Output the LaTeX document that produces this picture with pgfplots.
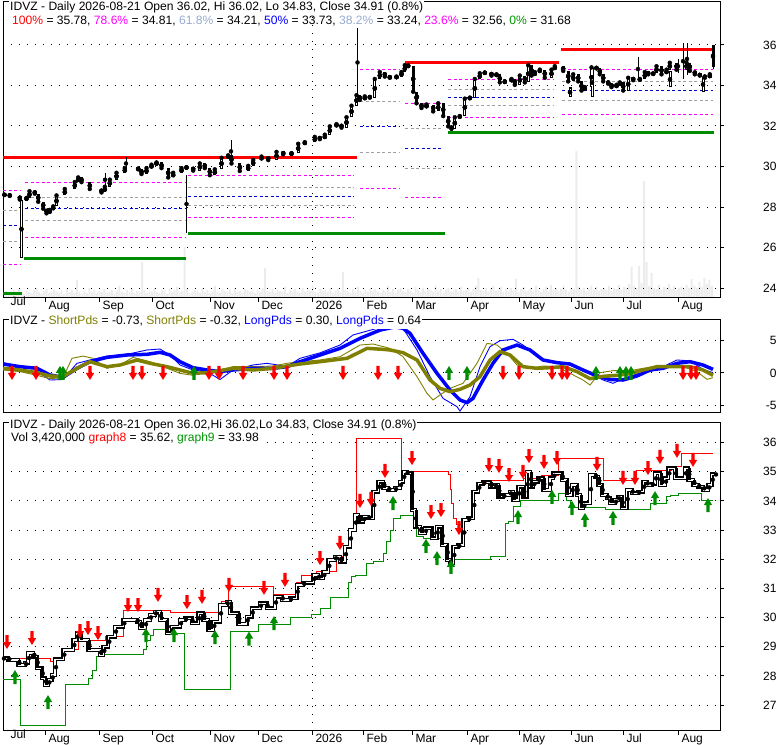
\documentclass[border=0pt]{standalone}
\usepackage{pgfplots}
\pgfplotsset{compat=1.18}
\usepackage{pgfplotstable}
\usepackage{fontspec}
\setmainfont{Liberation Sans}

\definecolor{cRed}{RGB}{255,0,0}
\definecolor{cMag}{RGB}{255,0,255}
\definecolor{cGray}{RGB}{160,160,160}
\definecolor{cBlue}{RGB}{0,0,205}
\definecolor{cGreen}{RGB}{0,140,0}
\definecolor{cGreenT}{RGB}{0,150,0}
\definecolor{cSteel}{RGB}{150,170,210}
\definecolor{cOlive}{RGB}{128,128,0}
\definecolor{cLBlue}{RGB}{0,0,255}
\definecolor{cVol}{RGB}{236,236,236}

\pgfdeclareplotmark{dnarrow}{%
  \pgfpathmoveto{\pgfpoint{-1.7pt}{7pt}}%
  \pgfpathlineto{\pgfpoint{1.7pt}{7pt}}%
  \pgfpathlineto{\pgfpoint{1.7pt}{0pt}}%
  \pgfpathlineto{\pgfpoint{4.2pt}{0pt}}%
  \pgfpathlineto{\pgfpoint{0pt}{-7pt}}%
  \pgfpathlineto{\pgfpoint{-4.2pt}{0pt}}%
  \pgfpathlineto{\pgfpoint{-1.7pt}{0pt}}%
  \pgfpathclose\pgfusepathqfill}
\pgfdeclareplotmark{uparrow}{%
  \pgfpathmoveto{\pgfpoint{-1.7pt}{-7pt}}%
  \pgfpathlineto{\pgfpoint{1.7pt}{-7pt}}%
  \pgfpathlineto{\pgfpoint{1.7pt}{0pt}}%
  \pgfpathlineto{\pgfpoint{4.2pt}{0pt}}%
  \pgfpathlineto{\pgfpoint{0pt}{7pt}}%
  \pgfpathlineto{\pgfpoint{-4.2pt}{0pt}}%
  \pgfpathlineto{\pgfpoint{-1.7pt}{0pt}}%
  \pgfpathclose\pgfusepathqfill}

% closes as steps: x = start of step, o = previous close, v = close
\pgfplotstableread{
x o v
3 28.60 28.60
8.3 28.60 28.55
18.3 28.55 28.37
25 28.37 28.45
28 28.45 28.78
33.3 28.78 28.66
36.7 28.66 28.26
41.7 28.26 27.92
45 27.92 27.69
48.3 27.69 27.86
51.7 27.86 28.03
55 28.03 28.57
63.3 28.57 28.89
73.3 28.89 29.23
76.7 29.23 29.46
80 29.46 29.23
88.3 29.23 28.89
100 28.89 28.72
103.3 28.72 29.00
108.3 29.00 29.35
115 29.35 29.69
123.3 29.69 29.92
136.7 29.92 29.86
140 29.86 29.63
145 29.63 29.92
150 29.92 30.09
155 30.09 30.20
160 30.20 29.92
166.7 29.92 29.46
171.7 29.46 29.69
180 29.69 29.92
185 29.92 29.97
191.7 29.97 29.80
198.3 29.80 30.15
203.3 30.15 29.92
208.3 29.92 29.57
213.3 29.57 29.86
220 29.86 30.43
226.7 30.43 30.55
230 30.55 30.15
238.3 30.15 29.78
246.7 29.78 30.03
251.7 30.03 30.32
260 30.32 30.49
266.7 30.49 30.32
275 30.32 30.72
281.7 30.72 30.60
290 30.60 30.66
296.7 30.66 31.12
303.3 31.12 31.20
313.3 31.20 31.46
318.3 31.46 31.35
323.3 31.35 31.57
328.3 31.57 31.98
335 31.98 32.09
340 32.09 31.92
345 31.92 32.43
350 32.43 33.00
355 33.00 33.52
358.3 33.52 33.29
363.3 33.29 33.46
368.3 33.46 33.40
373.3 33.40 34.32
378.3 34.32 34.66
383.3 34.66 34.44
388.3 34.44 34.38
395 34.38 34.44
400 34.44 34.66
403.3 34.66 35.00
406.7 35.00 34.95
411.7 34.95 33.69
415 33.69 33.12
420 33.12 32.89
425 32.89 33.06
431.7 33.06 32.72
436.7 32.72 33.12
441.7 33.12 32.49
446.7 32.49 31.98
450 31.98 31.86
453.3 31.86 32.43
458.3 32.43 32.49
463.3 32.49 33.35
468.3 33.35 33.40
473.3 33.40 34.32
478.3 34.32 34.60
483.3 34.60 34.64
490 34.64 34.49
495 34.49 34.55
498.3 34.55 34.15
503.3 34.15 34.20
510 34.20 34.32
513.3 34.32 34.03
518.3 34.03 34.49
523.3 34.49 34.15
526.7 34.15 35.00
530 35.00 34.49
533.3 34.49 34.66
538.3 34.66 34.78
543.3 34.78 34.38
550 34.38 34.78
553.3 34.78 34.95
561.7 34.95 34.72
566.7 34.72 34.20
571.7 34.20 34.55
576.7 34.55 34.20
580 34.20 33.75
583.3 33.75 33.92
590 33.92 34.89
595 34.89 34.84
598.3 34.84 34.55
601.7 34.55 34.20
606.7 34.20 34.09
610 34.09 33.92
615 33.92 34.03
618.3 34.03 34.15
621.7 34.15 33.75
626.7 33.75 34.38
631.7 34.38 34.26
638.3 34.26 34.32
643.3 34.32 34.66
646.7 34.66 34.55
651.7 34.55 34.60
655 34.60 34.95
660 34.95 34.55
665 34.55 34.78
668.3 34.78 35.12
675 35.12 34.78
685 34.78 35.12
688.3 35.12 34.72
693.3 34.72 34.55
698.3 34.55 34.49
703.3 34.49 34.38
708.3 34.38 34.55
711.7 34.55 34.91
715 34.91 34.91
}\segs

\pgfplotstableread{
x v
3 28.58
50 28.49
55 28.58
63.3 28.89
78.3 29.23
105 29.35
123.3 30.26
170 30.17
221.7 30.55
228.3 31.08
273.3 30.78
296.7 31.20
301.7 31.46
316.7 31.57
336.7 32.09
345 32.43
350 33.00
355 33.52
356.7 36.15
401.7 35.00
448.3 34.90
450 34.40
451.7 33.90
453.3 33.41
456.7 33.20
463.3 33.35
473.3 34.32
478.3 34.60
490 34.70
523.3 34.78
541.7 34.89
558.3 35.46
603.3 34.70
636.7 35.04
671.7 35.18
681.7 35.64
713 35.64
}\geight

\pgfplotstableread{
x v
3 27.89
20.7 26.31
65 27.71
88.3 27.90
92 28.20
96.7 28.66
103.3 28.72
143.3 28.90
146.7 29.20
150 29.40
153.3 29.60
166.7 29.44
184 27.54
230 29.54
258.3 29.75
290 30.01
311.7 30.10
320 30.30
330 30.70
348.3 31.20
351 31.40
355 31.46
366.7 31.86
373.3 31.92
383.3 32.20
386.7 32.60
390 33.00
393.3 33.41
400 33.49
416.7 32.78
423.3 32.72
440 32.55
445 32.00
490 32.11
505 33.23
508.3 33.29
513.3 33.80
520 34.03
558.3 34.26
566.7 34.00
570 33.78
605 33.70
650 33.92
666.7 34.17
670 34.20
678.3 34.26
701.7 34.03
713 34.03
}\gnine

\pgfplotsset{
  panel/.style={
    scale only axis, width=717pt, xmin=3, xmax=720,
    axis line style={line width=1pt, black},
    every tick/.style={black, line width=1pt},
    tick align=outside, major tick length=4pt,
    ytick pos=right, yticklabel pos=right, xtick pos=bottom,
    ymajorgrids,
    major grid style={black, line width=1pt, dash pattern=on 1pt off 7pt},
    tick label style={font=\fontsize{12}{14}\selectfont},
    /pgf/number format/assume math mode=true,
    yticklabel style={anchor=east, xshift=56pt},
  },
  ovl/.style={scale only axis, width=717pt, xmin=3, xmax=720, hide axis},
  months/.style={
    xtick={45,99,152,210,258,312,363,412,467,519,571,623,678},
    xticklabels={Aug,Sep,Oct,Nov,Dec,2026,Feb,Mar,Apr,May,Jun,Jul,Aug},
    extra x ticks={7}, extra x tick labels={Jul},
    extra x tick style={major tick length=0pt},
    xticklabel style={anchor=base west, xshift=0pt, yshift=-8pt},
  },
  fibD/.style={line width=1pt, dash pattern=on 3pt off 2.5pt},
  fibT/.style={line width=3pt},
  body/.style={only marks, mark=none, error bars/.cd, y dir=both, y explicit, error mark=none},
}

\begin{document}
\begin{tikzpicture}[x=1pt,y=1pt]
\coordinate (Ptop) at (3,447);
\coordinate (Pmid) at (3,332);
\coordinate (Pbot) at (3,14.3);

% ================= TOP PANEL =================
% volume
\begin{axis}[ovl, at={(Ptop)}, anchor=south west, height=296pt, ymin=0, ymax=296]
\addplot[ybar, bar width=2pt, fill=cVol, draw=none]
 table[row sep=\\, x expr=4+2.51*\coordindex, y=v] {
v\\5\\7\\4\\6\\8\\5\\9\\6\\4\\7\\
6\\5\\8\\10\\6\\4\\7\\9\\5\\6\\
8\\6\\5\\7\\4\\9\\6\\8\\5\\18\\
6\\4\\7\\5\\10\\6\\8\\5\\7\\6\\
9\\5\\6\\8\\4\\7\\12\\6\\5\\8\\
6\\9\\5\\7\\6\\36\\8\\5\\7\\6\\
10\\6\\5\\8\\7\\4\\9\\6\\8\\11\\
6\\7\\51\\9\\5\\6\\8\\7\\5\\10\\
6\\8\\5\\7\\12\\6\\5\\9\\7\\6\\
8\\5\\10\\6\\7\\5\\9\\8\\6\\7\\
5\\8\\6\\10\\30\\7\\6\\9\\5\\8\\
7\\6\\11\\5\\8\\7\\9\\6\\5\\10\\
6\\8\\7\\12\\6\\5\\9\\7\\8\\6\\
10\\5\\7\\9\\6\\26\\8\\7\\5\\9\\
6\\11\\7\\5\\8\\6\\10\\7\\9\\6\\
5\\8\\7\\12\\6\\9\\5\\8\\10\\7\\
6\\9\\7\\5\\11\\8\\6\\10\\7\\9\\
8\\6\\12\\7\\9\\5\\8\\10\\6\\7\\
9\\6\\11\\7\\8\\10\\6\\9\\12\\20\\
8\\7\\10\\6\\9\\12\\7\\8\\11\\6\\
9\\7\\10\\8\\19\\6\\9\\11\\7\\8\\
10\\7\\12\\8\\6\\9\\11\\7\\13\\8\\
10\\7\\9\\12\\8\\6\\10\\9\\147\\11\\
8\\10\\7\\9\\12\\8\\11\\7\\9\\10\\
8\\12\\7\\10\\9\\13\\8\\11\\10\\14\\
31\\12\\10\\32\\15\\117\\36\\12\\25\\10\\
9\\13\\8\\11\\10\\14\\9\\12\\8\\10\\
11\\9\\13\\10\\19\\12\\10\\16\\11\\20\\
14\\18\\12\\
};
\end{axis}

\begin{axis}[panel, months, at={(Ptop)}, anchor=south west, height=296pt,
  ymin=23.51, ymax=38.12, ytick={24,26,...,36}]
\addplot[black, line width=1pt, dash pattern=on 1pt off 7pt] coordinates {(312,23.51) (312,38.12)};
% period 1
\addplot[cMag, fibD] coordinates {(3,28.83) (20,28.83)};
\addplot[cGray, fibD] coordinates {(3,27.84) (20,27.84)};
\addplot[cBlue, fibD] coordinates {(3,27.10) (20,27.10)};
\addplot[cGray, fibD] coordinates {(3,26.30) (20,26.30)};
\addplot[cMag, fibD] coordinates {(3,25.18) (20,25.18)};
\addplot[cGreen, fibT] coordinates {(3,23.75) (22,23.75)};
% period 2
\addplot[cMag, fibD] coordinates {(25,29.19) (185,29.19)};
\addplot[cGray, fibD] coordinates {(25,28.46) (185,28.46)};
\addplot[cBlue, fibD] coordinates {(25,27.94) (185,27.94)};
\addplot[cGray, fibD] coordinates {(25,27.35) (185,27.35)};
\addplot[cMag, fibD] coordinates {(25,26.50) (185,26.50)};
\addplot[cGreen, fibT] coordinates {(24,25.47) (186,25.47)};
% period 3
\addplot[cMag, fibD] coordinates {(188,29.55) (354,29.55)};
\addplot[cGray, fibD] coordinates {(188,28.97) (354,28.97)};
\addplot[cBlue, fibD] coordinates {(188,28.54) (354,28.54)};
\addplot[cGray, fibD] coordinates {(188,28.09) (354,28.09)};
\addplot[cMag, fibD] coordinates {(188,27.46) (354,27.46)};
\addplot[cGreen, fibT] coordinates {(188,26.68) (445,26.68)};
\addplot[cRed, fibT] coordinates {(3,30.43) (357,30.43)};
% period 4
\addplot[cMag, fibD] coordinates {(360,34.77) (400,34.77)};
\addplot[cGray, fibD] coordinates {(360,33.23) (400,33.23)};
\addplot[cBlue, fibD] coordinates {(360,31.97) (400,31.97)};
\addplot[cGray, fibD] coordinates {(360,30.70) (400,30.70)};
\addplot[cMag, fibD] coordinates {(360,28.92) (400,28.92)};
% period 5
\addplot[cMag, fibD] coordinates {(405,33.12) (443,33.12)};
\addplot[cGray, fibD] coordinates {(405,31.89) (443,31.89)};
\addplot[cBlue, fibD] coordinates {(405,30.90) (443,30.90)};
\addplot[cGray, fibD] coordinates {(405,29.91) (443,29.91)};
\addplot[cMag, fibD] coordinates {(405,28.48) (443,28.48)};
\addplot[cRed, fibT] coordinates {(405,35.14) (559,35.14)};
% period 6
\addplot[cMag, fibD] coordinates {(448,34.31) (553,34.31)};
\addplot[cGray, fibD] coordinates {(448,33.81) (553,33.81)};
\addplot[cBlue, fibD] coordinates {(448,33.42) (553,33.42)};
\addplot[cGray, fibD] coordinates {(448,32.99) (553,32.99)};
\addplot[cMag, fibD] coordinates {(448,32.43) (553,32.43)};
\addplot[cGreen, fibT] coordinates {(448,31.69) (714,31.69)};
% period 7
\addplot[cMag, fibD] coordinates {(562,34.81) (713,34.81)};
\addplot[cGray, fibD] coordinates {(562,34.21) (713,34.21)};
\addplot[cBlue, fibD] coordinates {(562,33.73) (713,33.73)};
\addplot[cGray, fibD] coordinates {(562,33.24) (713,33.24)};
\addplot[cMag, fibD] coordinates {(562,32.56) (713,32.56)};
\addplot[cRed, fibT] coordinates {(561,35.78) (713,35.78)};
% wicks
\addplot[body, error bar style={line width=1pt, black}] table[y expr=(\thisrow{lo}+\thisrow{hi})/2, y error expr=(\thisrow{hi}-\thisrow{lo})/2] {
x lo hi
186.5 26.70 29.60
357.5 33.43 36.84
126 29.83 30.47
105 28.99 29.70
231 30.20 31.30
638 34.20 35.42
678 34.60 35.30
683 34.30 36.10
687 34.50 36.12
713 34.83 36.02
417 33.20 33.70
};
% candle bodies: down (filled)
\addplot[body, error bar style={line width=3pt, black}] table[restrict x to domain=0:712, x expr=\thisrow{x}+1.5, y expr=(\thisrow{o}+\thisrow{v})/2, y error expr={max(\thisrow{o}-\thisrow{v},0)/2}] {\segs};
\addplot[body, error bar style={line width=3pt, black}] coordinates {(713,35.465) +- (0,0.555)};
% up (hollow)
\addplot[body, error bar style={line width=3pt, black}] table[restrict x to domain=0:712, x expr=\thisrow{x}+1.5, y expr=(\thisrow{o}+\thisrow{v})/2, y error expr={max(\thisrow{v}-\thisrow{o},0)/2}] {\segs};
\addplot[body, error bar style={line width=3pt, black}] coordinates {(21.5,26.91) +- (0,1.44) (592,34.145) +- (0,0.715) (570,33.665) +- (0,0.235) (703,34.05) +- (0,0.35) (670,34.3) +- (0,0.4)};
\addplot[body, error bar style={line width=1pt, white}] table[restrict x to domain=0:712, x expr=\thisrow{x}+1.5, y expr=(\thisrow{o}+\thisrow{v})/2, y error expr={max((\thisrow{v}-\thisrow{o})/2-0.05,0)}] {\segs};
\addplot[body, error bar style={line width=1pt, white}] coordinates {(21.5,26.91) +- (0,1.39) (592,34.145) +- (0,0.665) (570,33.665) +- (0,0.185) (703,34.05) +- (0,0.3) (670,34.3) +- (0,0.35)};
% close dash
\addplot[body, error bar style={line width=3pt, black}] table[restrict x to domain=0:712, x expr=\thisrow{x}+1.5, y=v, y error expr=0.03] {\segs};
\end{axis}

% ================= MIDDLE PANEL =================
\begin{axis}[panel, at={(Pmid)}, anchor=south west, height=93pt,
  ymin=-6.154, ymax=8.154, ytick={-5,0,5}, xtick=\empty]
\addplot[cLBlue, line width=0.9pt] coordinates {
(3,1.6) (20,1.0) (33,0.72) (50,-1.08) (63,-1.0) (77,1.49) (90,2.0) (107,2.6) (127,2.87) (147,3.54) (160,3.69) (170,2.77) (180,1.23) (193,0.46) (207,0.21) (220,-1.0) (233,0.46) (253,1.23) (267,1.49) (287,1.0) (300,2.26) (320,3.1) (340,4.3) (353,5.85) (373,6.7) (390,7.4) (403,6.87) (417,3.54) (430,-0.56) (443,-3.9) (457,-5.18) (460,-5.85) (470,-3.64) (480,0.97) (490,4.05) (500,4.97) (513,5.18) (523,4.3) (537,2.51) (550,1.74) (563,1.49) (577,0.97) (590,0.05) (603,-1.08) (613,-1.59) (623,-0.87) (637,-0.15) (650,0.21) (663,0.97) (677,2.0) (690,1.87) (703,0.56) (713,0.05)};
\addplot[cOlive, line width=0.9pt] coordinates {
(3,0.46) (20,0.21) (37,-0.36) (50,-0.87) (63,-0.72) (72,2.26) (83,2.6) (93,2.26) (107,0.72) (120,1.23) (133,2.41) (150,1.74) (167,0.72) (180,-0.05) (193,-0.36) (207,0.21) (220,0.46) (233,0.97) (253,0.97) (273,1.08) (287,1.49) (300,1.74) (320,2.0) (340,2.51) (360,4.3) (373,4.46) (390,3.79) (403,2.51) (417,-0.56) (427,-3.13) (433,-4.15) (440,-3.38) (450,-2.36) (463,-1.59) (477,1.49) (487,4.56) (497,4.3) (507,3.03) (517,1.23) (530,0.72) (543,1.08) (557,0.97) (570,-0.05) (583,-1.08) (590,-1.85) (600,0.05) (613,0.36) (630,0.36) (643,0.72) (657,0.97) (670,0.97) (683,0.97) (697,0.21) (707,-0.98) (713,-0.72)};
\addplot[cLBlue, line width=3.5pt] coordinates {
(3,1.38) (20,0.97) (37,0.72) (50,-0.31) (63,-0.67) (77,0.72) (90,1.74) (107,2.41) (127,2.77) (147,2.87) (160,3.18) (170,2.77) (180,1.74) (193,0.82) (207,0.46) (220,0.21) (233,0.46) (253,0.72) (273,0.72) (287,0.97) (300,1.74) (320,2.77) (340,3.79) (360,5.33) (380,6.6) (395,7.1) (403,6.87) (410,6.1) (423,3.03) (437,-0.05) (450,-2.62) (460,-4.15) (467,-4.56) (473,-3.9) (483,-1.08) (493,1.49) (503,3.54) (517,4.3) (530,3.54) (543,2.0) (557,1.59) (570,1.38) (583,0.46) (597,-0.46) (610,-1.0) (623,-1.08) (637,-0.46) (650,0.46) (663,0.72) (677,1.49) (690,1.74) (703,1.23) (713,0.56)};
\addplot[cOlive, line width=3.5pt] coordinates {
(3,0.72) (20,0.46) (37,0.05) (50,-0.46) (63,-0.56) (77,0.72) (90,1.74) (107,0.97) (120,1.23) (137,2.0) (150,1.49) (167,0.97) (180,0.46) (193,-0.05) (207,0.05) (220,0.36) (233,0.72) (253,0.46) (273,0.72) (287,1.08) (300,1.38) (320,1.74) (347,2.26) (367,3.79) (383,3.64) (390,3.54) (403,3.13) (417,2.0) (430,-1.08) (440,-2.36) (450,-2.87) (460,-2.51) (470,-1.85) (480,-0.56) (490,2.0) (500,3.28) (510,2.77) (523,0.97) (537,0.72) (550,0.82) (563,0.97) (577,0.21) (590,-0.87) (603,-0.51) (617,-0.36) (630,-0.1) (643,0.46) (657,0.97) (677,0.97) (690,0.97) (703,0.46) (713,-0.36)};
\addplot[only marks, mark=dnarrow, color=cRed] coordinates {
(12,0) (36,0) (90,0) (133,0) (142,0) (163,0) (209,0) (219,0) (243,0) (274,0) (287,0) (343,0) (378,0) (398,0) (503,0) (519,0) (552,0) (562,0) (567,0) (683,0) (691,0) (696,0)};
\addplot[only marks, mark=uparrow, color=cGreen] coordinates {
(60,0) (63,0) (194,0) (449,0) (467,0) (596,0) (620,0) (626,0) (631,0)};
\end{axis}

% ================= BOTTOM PANEL =================
\begin{axis}[panel, months, at={(Pbot)}, anchor=south west, height=308pt,
  ymin=26.12, ymax=36.686, ytick={27,28,...,36}]
\addplot[black, line width=1pt, dash pattern=on 1pt off 7pt] coordinates {(312,26.12) (312,36.686)};
\addplot[cRed, line width=1pt, const plot] table[x=x, y=v] {\geight};
\addplot[cGreen, line width=1pt, const plot] table[x=x, y=v] {\gnine};
\addplot[black, line width=4pt, const plot, line join=miter] table[x=x, y=v] {\segs};
\addplot[white, line width=1.4pt, const plot, line join=miter] table[x=x, y=v] {\segs};
\addplot[body, error bar style={line width=3pt, black}] table[x expr=\thisrow{x}+1, y expr=(\thisrow{o}+\thisrow{v})/2, y error expr={max(\thisrow{o}-\thisrow{v},0)/2}] {\segs};
\addplot[only marks, mark=dnarrow, color=cRed] coordinates {
(7,29.16) (32,29.30) (80,29.54) (88,29.64) (98,29.47) (128,30.43) (138,30.43) (158,30.78) (187,30.53) (202,30.71) (229,31.12) (264,31.02) (285,31.29) (320,32.04) (340,32.56) (360,34.0) (371,34.07) (385,35.03) (412,35.47) (431,33.62) (441,33.69) (459,33.07) (489,35.23) (499,35.20) (509,34.89) (523,35.0) (529,35.54) (544,35.34) (557,35.47) (597,35.27) (623,34.79) (635,34.79) (648,35.13) (660,35.51) (677,35.72) (693,35.41)};
\addplot[only marks, mark=uparrow, color=cGreen] coordinates {
(15,27.96) (48,27.10) (146,29.40) (174,29.40) (215,29.33) (249,29.28) (274,29.81) (393,33.93) (426,32.46) (437,32.04) (451,31.74) (518,33.45) (552,34.14) (572,33.76) (585,33.35) (613,33.42) (655,34.10) (708,33.86)};
\end{axis}

% ================= TITLES =================
\tikzset{ttl/.style={anchor=base west, inner sep=1pt, fill=white, font=\fontsize{12.1}{14}\selectfont}}
\node[ttl] at (9,734.5) {IDVZ - Daily 2026-08-21 Open 36.02, Hi 36.02, Lo 34.83, Close 34.91 (0.8\%)};
\node[ttl, fill=none] at (11,720.5) {\textcolor{cRed}{100\%} = 35.78, \textcolor{cMag}{78.6\%} = 34.81, \textcolor{cSteel}{61.8\%} = 34.21, \textcolor{cLBlue}{50\%} = 33.73, \textcolor{cSteel}{38.2\%} = 33.24, \textcolor{cMag}{23.6\%} = 32.56, \textcolor{cGreenT}{0\%} = 31.68};
\node[ttl] at (9,420) {IDVZ - \textcolor{cOlive}{ShortPds} = -0.73, \textcolor{cOlive}{ShortPds} = -0.32, \textcolor{cLBlue}{LongPds} = 0.30, \textcolor{cLBlue}{LongPds} = 0.64};
\node[ttl] at (9,316) {IDVZ - Daily 2026-08-21 Open 36.02,Hi 36.02,Lo 34.83, Close 34.91 (0.8\%)};
\node[ttl] at (10,303.3) {Vol 3,420,000 \textcolor{cRed}{graph8} = 35.62, \textcolor{cGreenT}{graph9} = 33.98};

\pgfresetboundingbox
\useasboundingbox (0,0) rectangle (780,745);
\end{tikzpicture}
\end{document}
